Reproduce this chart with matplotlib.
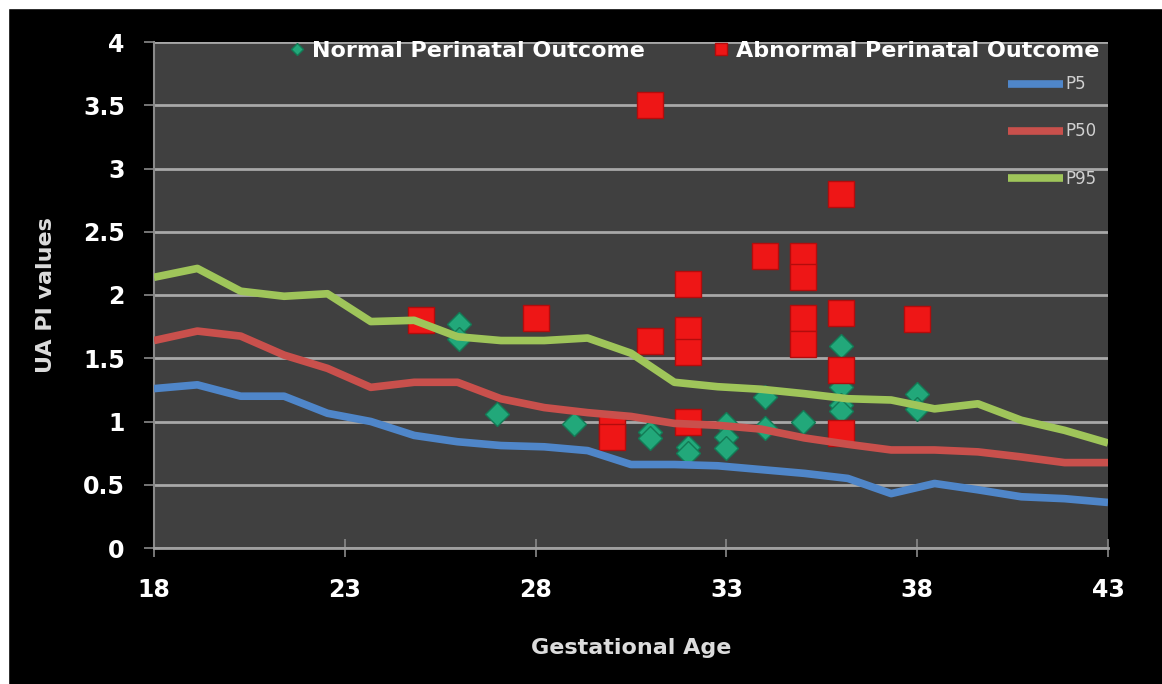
import matplotlib
matplotlib.use("Agg")
import matplotlib.pyplot as plt
from matplotlib.patches import Rectangle
import numpy as np

# percentile curves (23 evenly spaced categories across the 18-43 range)
p5 = [1.26, 1.29, 1.20, 1.20, 1.065, 1.00, 0.89, 0.84, 0.81, 0.80, 0.77, 0.66,
      0.66, 0.65, 0.62, 0.59, 0.55, 0.43, 0.51, 0.46, 0.405, 0.39, 0.36]
p50 = [1.64, 1.715, 1.675, 1.525, 1.42, 1.27, 1.31, 1.31, 1.18, 1.11, 1.07, 1.04,
       0.985, 0.97, 0.94, 0.87, 0.82, 0.775, 0.775, 0.76, 0.72, 0.675, 0.675]
p95 = [2.14, 2.21, 2.03, 1.99, 2.01, 1.79, 1.80, 1.67, 1.64, 1.64, 1.66, 1.54,
       1.31, 1.275, 1.255, 1.22, 1.18, 1.17, 1.10, 1.14, 1.01, 0.93, 0.83]

normal_x = [26, 26, 27, 29, 31, 31, 32, 32, 33, 33, 33, 34, 34, 35, 36, 36, 36, 36, 38, 38]
normal_y = [1.77, 1.65, 1.06, 0.98, 0.92, 0.87, 0.80, 0.75, 0.98, 0.88, 0.79,
            1.19, 0.95, 1.00, 1.60, 1.27, 1.13, 1.08, 1.22, 1.10]

abnormal_x = [25, 28, 30, 30, 31, 31, 32, 32, 32, 32, 34, 35, 35, 35, 35, 36, 36, 36, 36, 38]
abnormal_y = [1.80, 1.82, 0.95, 0.88, 3.50, 1.64, 2.09, 1.72, 1.55, 1.00,
              2.31, 2.31, 2.14, 1.82, 1.61, 2.80, 1.86, 1.41, 0.91, 1.81]

x_ticks = [18, 23, 28, 33, 38, 43]
y_ticks = [0, 0.5, 1, 1.5, 2, 2.5, 3, 3.5, 4]
y_tick_labels = ['0', '0.5', '1', '1.5', '2', '2.5', '3', '3.5', '4']

fig = plt.figure(figsize=(11.62, 6.84), dpi=100, facecolor='black')
# thin white margin at top and left of the original screenshot
fig.patches.append(Rectangle((0, 1 - 8 / 684), 1, 8 / 684, transform=fig.transFigure,
                             color='white', zorder=0))
fig.patches.append(Rectangle((0, 0), 8 / 1162, 1, transform=fig.transFigure,
                             color='white', zorder=0))

ax = fig.add_axes([154 / 1162, 1 - 548 / 684, (1108 - 154) / 1162, (548 - 42) / 684])
ax.set_facecolor('#404040')

# scatter points on the weeks axis
ax.plot(normal_x, normal_y, 'D', ms=12.5, color='#22a87a', mec='#137a55', mew=1,
        label='Normal Perinatal Outcome')
ax.plot(abnormal_x, abnormal_y, 's', ms=19, color='#ee1616', mec='#b30c0c', mew=1,
        label='Abnormal Perinatal Outcome')

ax.set_xlim(18, 43)
ax.set_ylim(0, 4)
ax.set_xticks(x_ticks)
ax.set_yticks(y_ticks)
ax.set_yticklabels(y_tick_labels)
ax.yaxis.grid(True, color='#a8a8a8', lw=2)
ax.set_axisbelow(True)
for s in ['top', 'right']:
    ax.spines[s].set_visible(False)
ax.spines['left'].set_color('#8a8a8a')
ax.spines['left'].set_linewidth(1.5)
ax.spines['bottom'].set_color('#a0a0a0')
ax.spines['bottom'].set_linewidth(2)
ax.tick_params(axis='y', direction='out', length=7, width=1.2, color='#8a8a8a',
               labelsize=17, labelcolor='white', pad=14)
ax.tick_params(axis='x', direction='inout', length=13, width=1.2, color='#8a8a8a',
               labelsize=17, labelcolor='white', pad=15)
for lbl in ax.get_xticklabels() + ax.get_yticklabels():
    lbl.set_fontweight('bold')

ax.set_xlabel('Gestational Age', fontsize=16, fontweight='bold', color='#dcdcdc')
ax.set_ylabel('UA PI values', fontsize=16, fontweight='bold', color='#dcdcdc')
ax.xaxis.set_label_coords(0.5, (548 - 638) / 506, transform=ax.transAxes)
ax.yaxis.set_label_coords((56 - 154) / 954, 0.5, transform=ax.transAxes)

# percentile lines on a hidden category axis, drawn above the points
axl = ax.twiny()
cat = np.arange(len(p5))
axl.plot(cat, p5, color='#4f86c9', lw=5.5, label='P5', solid_capstyle='butt')
axl.plot(cat, p50, color='#c9504c', lw=5.5, label='P50', solid_capstyle='butt')
axl.plot(cat, p95, color='#9fc55a', lw=5.5, label='P95', solid_capstyle='butt')
axl.set_xlim(0, len(p5) - 1)
axl.set_ylim(0, 4)
axl.tick_params(top=False, labeltop=False)
for s in axl.spines.values():
    s.set_visible(False)

# legends
h1, l1 = ax.get_legend_handles_labels()
leg1 = fig.legend(h1, l1, loc='center left', bbox_to_anchor=(288 / 1162, 1 - 51 / 684),
                  ncol=2, frameon=False, markerscale=0.45, handlelength=0.8,
                  handletextpad=0.3, columnspacing=3.0, borderpad=0, borderaxespad=0,
                  prop={'size': 16, 'weight': 'bold'}, labelcolor='white')

h2, l2 = axl.get_legend_handles_labels()
leg2 = fig.legend(h2, l2, loc='upper left', bbox_to_anchor=(1000 / 1162, 1 - 67 / 684),
                  frameon=False, handlelength=3.3, handletextpad=0.1,
                  labelspacing=1.75, borderpad=0, prop={'size': 12},
                  labelcolor='#d0d0d0')

fig.savefig('out.png', dpi=100, facecolor=fig.get_facecolor())
